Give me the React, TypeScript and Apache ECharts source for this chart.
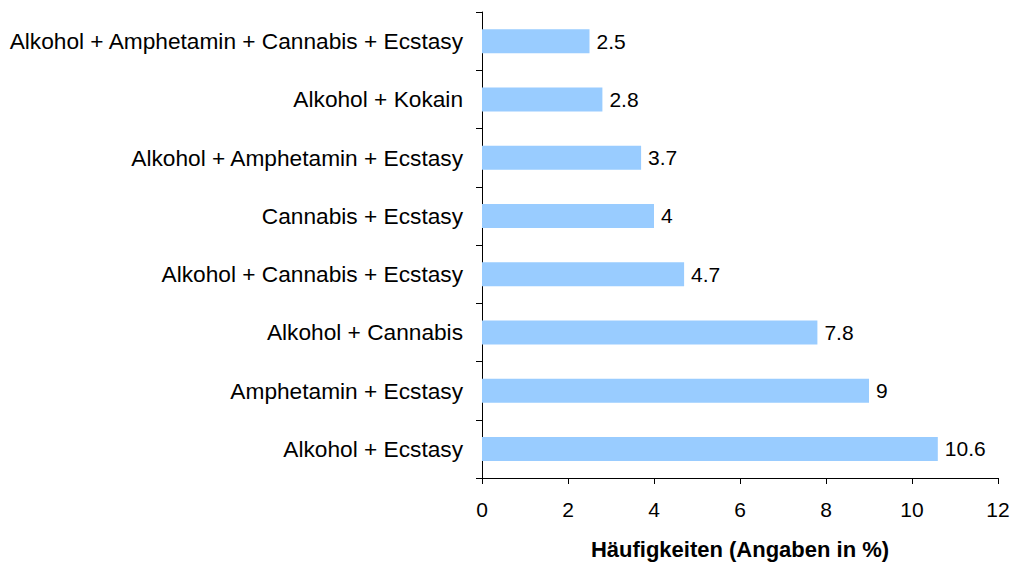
import React, { useEffect, useRef } from "react";
import * as echarts from "echarts";

const categories = [
  "Alkohol + Ecstasy",
  "Amphetamin + Ecstasy",
  "Alkohol + Cannabis",
  "Alkohol + Cannabis + Ecstasy",
  "Cannabis + Ecstasy",
  "Alkohol + Amphetamin + Ecstasy",
  "Alkohol + Kokain",
  "Alkohol + Amphetamin + Cannabis + Ecstasy",
];
const values = [10.6, 9, 7.8, 4.7, 4, 3.7, 2.8, 2.5];
const xTitle = "Häufigkeiten (Angaben in %)";

export default function App() {
  const ref = useRef<HTMLDivElement>(null);
  useEffect(() => {
    document.body.style.margin = "0";
    const chart = echarts.init(ref.current!, null, { renderer: "svg" });
    const font = "'Liberation Sans', Arial, sans-serif";
    chart.setOption({
      animation: false,
      backgroundColor: "#ffffff",
      grid: { left: 482, top: 12, width: 516, height: 466, containLabel: false },
      xAxis: {
        type: "value",
        min: 0,
        max: 12,
        interval: 2,
        name: xTitle,
        nameLocation: "middle",
        nameGap: 60,
        nameTextStyle: { fontFamily: font, fontSize: 22, fontWeight: "bold", color: "#000" },
        axisLine: { show: true, lineStyle: { color: "#000", width: 1 } },
        axisTick: { show: true, length: 6, inside: false, lineStyle: { color: "#000" } },
        axisLabel: { fontFamily: font, fontSize: 21, color: "#000", margin: 21 },
        splitLine: { show: false },
      },
      yAxis: {
        type: "category",
        data: categories,
        axisLine: { show: true, lineStyle: { color: "#000", width: 1 } },
        axisTick: { show: true, length: 6, alignWithLabel: false, lineStyle: { color: "#000" } },
        axisLabel: { fontFamily: font, fontSize: 22.7, color: "#000", margin: 19 },
      },
      series: [
        {
          type: "bar",
          data: values,
          barWidth: 24,
          itemStyle: { color: "#99CCFF" },
          label: {
            show: true,
            position: "right",
            distance: 7,
            fontFamily: font,
            fontSize: 21,
            color: "#000",
          },
        },
      ],
    });
    return () => chart.dispose();
  }, []);
  return <div ref={ref} style={{ width: 1017, height: 565 }} />;
}
